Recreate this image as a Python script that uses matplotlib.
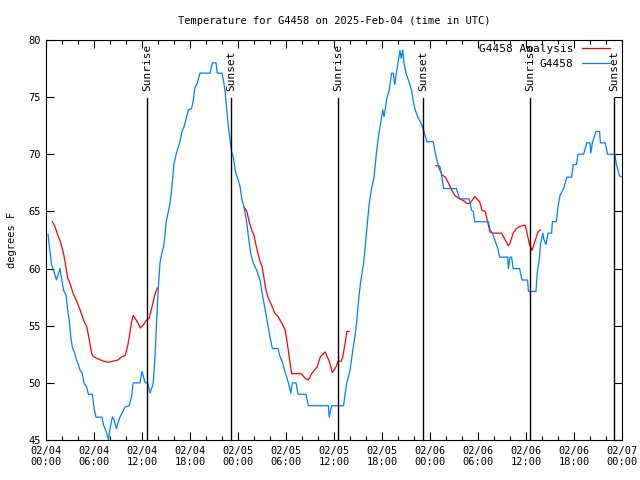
import numpy as np
import matplotlib
matplotlib.use("Agg")
import matplotlib.pyplot as plt

# hours since 2025-02-04 00:00 UTC
obs_hours = [0.25, 0.7, 0.9, 1.3, 1.5, 1.75, 1.85, 2.0, 2.2, 2.5, 2.7, 2.9, 3.1, 3.3, 3.6, 3.8,
             4.0, 4.25, 4.5, 4.75, 5.1, 5.3, 5.8, 6.0, 6.25, 7.0, 7.2, 7.6, 7.8, 8.0, 8.3, 8.5,
             8.8, 9.0, 9.25, 9.6, 9.9, 10.4, 10.7, 10.9, 11.75, 12.0, 12.2, 12.4, 12.7, 13.0,
             13.2, 13.4, 13.6, 13.8, 14.0, 14.25, 14.5, 14.7, 14.9, 15.0, 15.3, 15.5, 15.7,
             15.9, 16.0, 16.3, 16.7, 17.0, 17.25, 17.5, 17.8, 18.2, 18.4, 18.6, 18.9, 19.25,
             20.5, 20.8, 21.25, 21.4, 22.0, 22.2, 22.4, 22.6, 22.8, 23.0, 23.2, 23.4, 23.7,
             24.0, 24.25, 24.5, 24.75, 25.1, 25.3, 25.6, 25.9, 26.3, 26.75, 27.1, 27.4, 27.7,
             28.0, 28.3, 29.0, 29.25, 29.6, 29.9, 30.3, 30.6, 30.8, 31.25, 31.5, 32.5, 32.8,
             35.3, 35.4, 35.7, 37.2, 37.4, 37.6, 38.0, 38.3, 38.6, 38.8, 39.0, 39.3, 39.7,
             39.9, 40.1, 40.4, 40.7, 41.0, 41.3, 41.5, 41.75, 41.96, 42.1, 42.25, 42.4, 42.6,
             42.9, 43.2, 43.4, 43.6, 43.8, 44.0, 44.25, 44.4, 44.6, 44.75, 45.0, 45.3, 45.7,
             45.9, 46.1, 46.5, 46.8, 47.2, 47.6, 48.4, 48.75, 49.0, 49.25, 49.5, 49.7, 51.3,
             51.7, 52.9, 53.2, 53.4, 53.6, 55.3, 55.5, 55.8, 56.25, 56.5, 56.7, 57.7, 57.8,
             58.0, 58.2, 58.4, 59.2, 59.5, 60.2, 60.3, 61.25, 61.4, 61.7, 61.8, 62.1, 62.25,
             62.5, 62.75, 63.2, 63.3, 63.8, 64.0, 64.25, 64.7, 64.9, 65.1, 65.7, 65.9, 66.3,
             66.5, 67.2, 67.6, 68.0, 68.1, 68.3, 68.75, 69.2, 69.3, 69.9, 70.2, 71.1, 71.3,
             71.7, 72.0]
obs_temps = [63.0, 60.3, 60.0, 59.0, 59.4, 60.0, 59.6, 58.9, 58.1, 57.7, 56.4, 55.5, 54.0, 53.1,
             52.6, 52.0, 51.7, 51.1, 50.9, 50.0, 49.6, 49.0, 49.0, 47.8, 47.0, 47.0, 46.3, 45.6,
             45.0, 46.0, 47.0, 46.8, 46.0, 46.5, 47.0, 47.5, 47.9, 48.0, 48.8, 50.0, 50.0, 51.0,
             50.5, 50.0, 50.0, 49.1, 49.5, 50.0, 52.0, 54.9, 57.9, 60.5, 61.4, 61.9, 63.1, 64.0,
             65.0, 65.7, 66.9, 68.4, 69.2, 70.1, 71.0, 72.0, 72.4, 73.1, 73.9, 74.0, 74.7, 75.8,
             76.2, 77.1, 77.1, 78.0, 78.0, 77.1, 77.1, 76.4, 75.4, 73.9, 72.4, 71.3, 70.2, 69.8,
             68.4, 67.8, 67.2, 66.0, 65.4, 64.0, 62.8, 61.3, 60.5, 59.9, 59.0, 57.5, 56.4, 55.2,
             54.0, 53.0, 53.0, 52.3, 51.7, 50.9, 50.0, 49.1, 50.0, 50.0, 49.0, 49.0, 48.0, 48.0,
             47.0, 48.0, 48.0, 49.1, 50.0, 51.1, 52.6, 54.0, 55.1, 56.7, 58.7, 60.5, 61.9, 63.4,
             65.7, 67.0, 68.0, 70.1, 71.25, 72.4, 73.3, 73.9, 73.3, 73.9, 74.9, 75.6, 77.1, 77.1,
             76.1, 77.1, 78.0, 79.1, 78.4, 79.1, 78.0, 77.1, 76.5, 75.6, 74.7, 74.0, 73.2, 72.85,
             72.1, 71.1, 71.1, 69.8, 69.1, 68.9, 68.0, 67.0, 67.0, 66.1, 66.1, 65.1, 65.0, 64.1,
             64.1, 63.4, 63.1, 62.2, 61.7, 61.0, 61.0, 60.0, 61.0, 61.0, 60.0, 60.0, 59.0, 59.0,
             58.0, 58.0, 59.6, 61.0, 62.1, 63.1, 62.5, 62.1, 63.1, 63.1, 64.1, 64.1, 65.4, 66.4,
             67.0, 67.5, 68.0, 68.0, 69.1, 69.1, 70.0, 70.0, 71.0, 71.0, 70.1, 71.0, 72.0, 72.0,
             71.0, 71.0, 70.0, 70.0, 69.1, 68.1, 68.0]

# analysis series, NaN marks the gaps between runs
ana_hours = [0.8, 1.1, 1.5, 1.8, 2.2, 2.4, 2.7, 3.0, 3.4, 3.8, 4.25, 4.75, 5.1, 5.4, 5.7, 5.9,
             6.5, 7.2, 7.8, 8.4, 9.0, 9.5, 9.9, 10.2, 10.4, 10.7, 10.9, 11.4, 11.8, 12.25, 12.6,
             12.9, 13.2, 13.6, 13.9, 14.0,
             24.75, 25.1, 25.4, 25.7, 26.0, 26.3, 26.7, 27.0, 27.2, 27.5, 27.8, 28.2, 28.6, 29.0,
             29.5, 29.9, 30.1, 30.4, 30.7, 31.3, 31.9, 32.4, 32.8, 33.2, 33.9, 34.3, 34.9, 35.4,
             35.8, 36.25, 36.5, 36.9, 37.1, 37.4, 37.6, 37.9, 38.0,
             48.75, 49.0, 49.25, 49.5, 49.9, 50.3, 50.7, 51.1, 51.7, 52.2, 52.6, 53.0, 53.6, 54.2,
             54.5, 54.9, 55.2, 55.5, 55.8, 56.95, 57.4, 57.8, 58.0, 58.4, 58.8, 59.25, 59.9, 60.1,
             60.4, 60.75, 61.1, 61.5, 61.8]
ana_temps = [64.1, 63.7, 62.9, 62.35, 61.3, 60.5, 59.2, 58.7, 57.8, 57.2, 56.4, 55.4, 54.9, 53.8,
             52.6, 52.3, 52.1, 51.9, 51.8, 51.9, 52.0, 52.3, 52.4, 53.2, 54.0, 55.35, 55.9, 55.35,
             54.8, 55.15, 55.5, 55.65, 56.5, 57.7, 58.3, np.nan,
             65.4, 65.0, 64.1, 63.4, 62.9, 61.9, 60.75, 60.2, 59.4, 58.1, 57.4, 56.8, 56.1, 55.8,
             55.2, 54.6, 53.75, 52.3, 50.8, 50.8, 50.8, 50.4, 50.25, 50.8, 51.4, 52.3, 52.7, 51.9,
             50.9, 51.4, 51.9, 51.9, 52.3, 53.5, 54.5, 54.5, np.nan,
             69.0, 69.0, 68.6, 68.2, 68.0, 67.5, 66.9, 66.4, 66.1, 65.95, 65.7, 65.7, 66.3, 65.85,
             65.1, 65.0, 64.1, 63.2, 63.1, 63.1, 62.5, 62.0, 62.2, 63.1, 63.5, 63.7, 63.8, 63.2,
             62.2, 61.6, 62.35, 63.2, 63.4]

sunrise_hours = [12.6, 36.55, 60.5]
sunset_hours = [23.15, 47.15, 71.0]

tick_hours = list(range(0, 73, 6))
tick_labels = ["02/04\n00:00", "02/04\n06:00", "02/04\n12:00", "02/04\n18:00",
               "02/05\n00:00", "02/05\n06:00", "02/05\n12:00", "02/05\n18:00",
               "02/06\n00:00", "02/06\n06:00", "02/06\n12:00", "02/06\n18:00",
               "02/07\n00:00"]

plt.rcParams["font.family"] = ["DejaVu Sans Mono"]
plt.rcParams["font.size"] = 7.5

fig = plt.figure(figsize=(6.4, 4.8), dpi=100)
ax = fig.add_axes([46 / 640, 40 / 480, 576 / 640, 400 / 480])

ax.plot(ana_hours, ana_temps, color="#ff0000", lw=0.9, label="G4458 Analysis")
ax.plot(obs_hours, obs_temps, color="#0080ff", lw=0.9, label="G4458")

for h in sunrise_hours:
    ax.axvline(h, ymin=0, ymax=0.855, color="black", lw=1.0)
    ax.text(h, 74.9 + 0.6, "Sunrise", rotation=90, ha="center", va="bottom", fontsize=8)
for h in sunset_hours:
    ax.axvline(h, ymin=0, ymax=0.855, color="black", lw=1.0)
    ax.text(h, 74.9 + 0.6, "Sunset", rotation=90, ha="center", va="bottom", fontsize=8)

ax.set_xlim(0, 72)
ax.set_ylim(45, 80)
ax.set_xticks(tick_hours)
ax.set_xticklabels(tick_labels)
ax.set_xticks(range(0, 73, 2), minor=True)
ax.set_yticks(range(45, 81, 5))
ax.tick_params(direction="in", top=True, right=True, length=6, width=0.8, pad=4)
ax.tick_params(which="minor", direction="in", top=True, length=3, width=0.8)
for s in ax.spines.values():
    s.set_linewidth(0.8)

ax.set_ylabel("degrees F", labelpad=8)
ax.set_title("Temperature for G4458 on 2025-Feb-04 (time in UTC)", fontsize=7.5, pad=11.5)
ax.legend(loc="upper right", bbox_to_anchor=(1 - 4 / 576, 1 + 4 / 400), frameon=False,
          markerfirst=False, handlelength=2.5, borderaxespad=0.6, labelspacing=0.45,
          handletextpad=0.8, fontsize=8, borderpad=0.1)

fig.savefig("out.png", dpi=100)
